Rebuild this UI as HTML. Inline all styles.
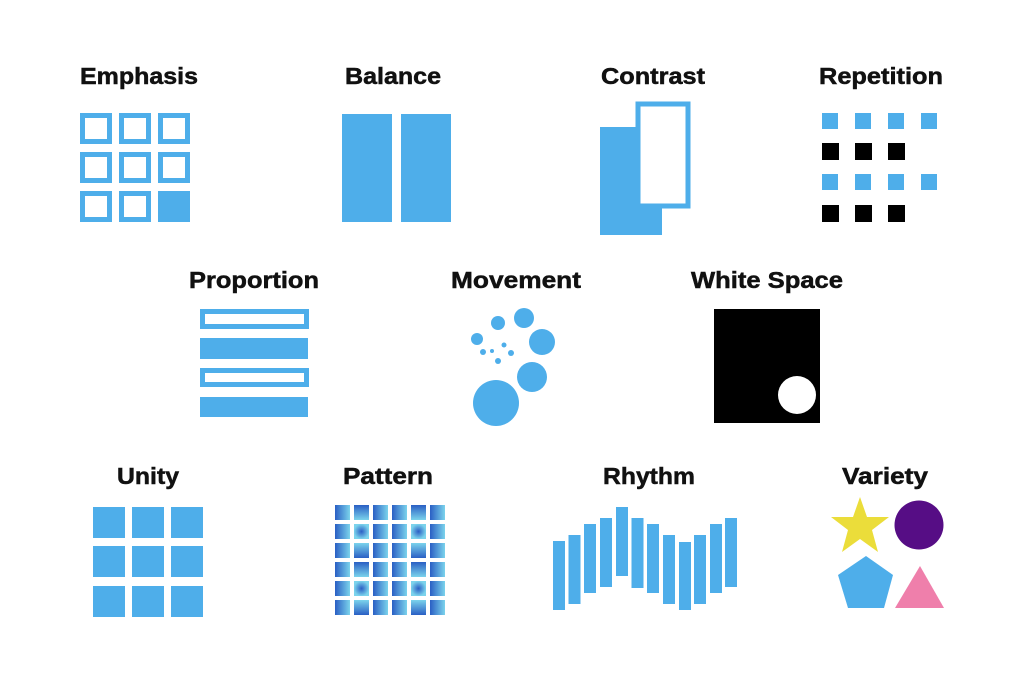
<!DOCTYPE html>
<html><head><meta charset="utf-8"><style>
html,body{margin:0;padding:0;background:#fff;}
svg{display:block;}
text{font-family:"Liberation Sans",Arial,sans-serif;font-weight:bold;font-size:23px;fill:#111;stroke:#111;stroke-width:0.5;text-anchor:middle;}
</style></head><body>
<svg width="1024" height="682" viewBox="0 0 1024 682" xmlns="http://www.w3.org/2000/svg">
<defs>
<linearGradient id="gh" x1="0" y1="0" x2="1" y2="0"><stop offset="0" stop-color="#2a5fc4"/><stop offset="1" stop-color="#7bd3ec"/></linearGradient>
<linearGradient id="gv" x1="0" y1="0" x2="0" y2="1"><stop offset="0" stop-color="#2a5fc4"/><stop offset="1" stop-color="#7bd3ec"/></linearGradient>
<linearGradient id="gv2" x1="0" y1="1" x2="0" y2="0"><stop offset="0" stop-color="#2a5fc4"/><stop offset="1" stop-color="#7bd3ec"/></linearGradient>
<radialGradient id="gr"><stop offset="0" stop-color="#2a5fc4"/><stop offset="1" stop-color="#7bd3ec"/></radialGradient>
</defs>
<g fill="none" stroke="#4eaeea" stroke-width="5">
<rect x="82.5" y="115.5" width="27" height="26"/><rect x="121.5" y="115.5" width="27" height="26"/><rect x="160.5" y="115.5" width="27" height="26"/>
<rect x="82.5" y="154.5" width="27" height="26"/><rect x="121.5" y="154.5" width="27" height="26"/><rect x="160.5" y="154.5" width="27" height="26"/>
<rect x="82.5" y="193.5" width="27" height="26"/><rect x="121.5" y="193.5" width="27" height="26"/>
</g>
<g fill="#4eaeea">
<rect x="158" y="191" width="32" height="31"/>
<rect x="342" y="114" width="50" height="108"/><rect x="401" y="114" width="50" height="108"/>
<rect x="600" y="127" width="62" height="108"/>
</g>
<rect x="638" y="104" width="50" height="102" fill="#fff" stroke="#4eaeea" stroke-width="5"/>
<g fill="#4eaeea">
<rect x="822" y="113" width="16" height="16"/><rect x="855" y="113" width="16" height="16"/><rect x="888" y="113" width="16" height="16"/><rect x="921" y="113" width="16" height="16"/>
<rect x="822" y="174" width="16" height="16"/><rect x="855" y="174" width="16" height="16"/><rect x="888" y="174" width="16" height="16"/><rect x="921" y="174" width="16" height="16"/>
</g>
<g fill="#000">
<rect x="822" y="143" width="17" height="17"/><rect x="855" y="143" width="17" height="17"/><rect x="888" y="143" width="17" height="17"/>
<rect x="822" y="205" width="17" height="17"/><rect x="855" y="205" width="17" height="17"/><rect x="888" y="205" width="17" height="17"/>
</g>
<text x="139" y="84" textLength="118" lengthAdjust="spacingAndGlyphs">Emphasis</text>
<text x="393" y="84" textLength="96" lengthAdjust="spacingAndGlyphs">Balance</text>
<text x="653" y="84" textLength="104" lengthAdjust="spacingAndGlyphs">Contrast</text>
<text x="881" y="84" textLength="124" lengthAdjust="spacingAndGlyphs">Repetition</text>
<text x="254" y="288" textLength="130" lengthAdjust="spacingAndGlyphs">Proportion</text>
<text x="516" y="288" textLength="130" lengthAdjust="spacingAndGlyphs">Movement</text>
<text x="767" y="288" textLength="152" lengthAdjust="spacingAndGlyphs">White Space</text>
<text x="148" y="484" textLength="62" lengthAdjust="spacingAndGlyphs">Unity</text>
<text x="388" y="484" textLength="90" lengthAdjust="spacingAndGlyphs">Pattern</text>
<text x="649" y="484" textLength="92" lengthAdjust="spacingAndGlyphs">Rhythm</text>
<text x="885" y="484" textLength="86" lengthAdjust="spacingAndGlyphs">Variety</text>
<rect x="202.5" y="311.5" width="104" height="15" fill="none" stroke="#4eaeea" stroke-width="5"/>
<rect x="200" y="338" width="108" height="21" fill="#4eaeea"/>
<rect x="202.5" y="370.5" width="104" height="14" fill="none" stroke="#4eaeea" stroke-width="5"/>
<rect x="200" y="397" width="108" height="20" fill="#4eaeea"/>
<g fill="#4eaeea">
<circle cx="496" cy="403" r="23"/><circle cx="532" cy="377" r="15"/><circle cx="542" cy="342" r="13"/>
<circle cx="524" cy="318" r="10"/><circle cx="498" cy="323" r="7"/><circle cx="477" cy="339" r="6"/>
<circle cx="483" cy="352" r="3"/><circle cx="492" cy="351" r="2"/><circle cx="504" cy="345" r="2.5"/><circle cx="511" cy="353" r="3"/><circle cx="498" cy="361" r="3"/>
</g>
<rect x="714" y="309" width="106" height="114" fill="#000"/>
<circle cx="797" cy="395" r="19" fill="#fff"/>
<g fill="#4eaeea">
<rect x="93" y="507" width="32" height="31"/><rect x="132" y="507" width="32" height="31"/><rect x="171" y="507" width="32" height="31"/>
<rect x="93" y="546" width="32" height="31"/><rect x="132" y="546" width="32" height="31"/><rect x="171" y="546" width="32" height="31"/>
<rect x="93" y="586" width="32" height="31"/><rect x="132" y="586" width="32" height="31"/><rect x="171" y="586" width="32" height="31"/>
</g>
<g>
<rect x="335" y="505" width="15" height="15" fill="url(#gh)"/><rect x="354" y="505" width="15" height="15" fill="url(#gv)"/><rect x="373" y="505" width="15" height="15" fill="url(#gh)"/><rect x="392" y="505" width="15" height="15" fill="url(#gh)"/><rect x="411" y="505" width="15" height="15" fill="url(#gv)"/><rect x="430" y="505" width="15" height="15" fill="url(#gh)"/>
<rect x="335" y="524" width="15" height="15" fill="url(#gh)"/><rect x="354" y="524" width="15" height="15" fill="url(#gr)"/><rect x="373" y="524" width="15" height="15" fill="url(#gh)"/><rect x="392" y="524" width="15" height="15" fill="url(#gh)"/><rect x="411" y="524" width="15" height="15" fill="url(#gr)"/><rect x="430" y="524" width="15" height="15" fill="url(#gh)"/>
<rect x="335" y="543" width="15" height="15" fill="url(#gh)"/><rect x="354" y="543" width="15" height="15" fill="url(#gv2)"/><rect x="373" y="543" width="15" height="15" fill="url(#gh)"/><rect x="392" y="543" width="15" height="15" fill="url(#gh)"/><rect x="411" y="543" width="15" height="15" fill="url(#gv2)"/><rect x="430" y="543" width="15" height="15" fill="url(#gh)"/>
<rect x="335" y="562" width="15" height="15" fill="url(#gh)"/><rect x="354" y="562" width="15" height="15" fill="url(#gv)"/><rect x="373" y="562" width="15" height="15" fill="url(#gh)"/><rect x="392" y="562" width="15" height="15" fill="url(#gh)"/><rect x="411" y="562" width="15" height="15" fill="url(#gv)"/><rect x="430" y="562" width="15" height="15" fill="url(#gh)"/>
<rect x="335" y="581" width="15" height="15" fill="url(#gh)"/><rect x="354" y="581" width="15" height="15" fill="url(#gr)"/><rect x="373" y="581" width="15" height="15" fill="url(#gh)"/><rect x="392" y="581" width="15" height="15" fill="url(#gh)"/><rect x="411" y="581" width="15" height="15" fill="url(#gr)"/><rect x="430" y="581" width="15" height="15" fill="url(#gh)"/>
<rect x="335" y="600" width="15" height="15" fill="url(#gh)"/><rect x="354" y="600" width="15" height="15" fill="url(#gv2)"/><rect x="373" y="600" width="15" height="15" fill="url(#gh)"/><rect x="392" y="600" width="15" height="15" fill="url(#gh)"/><rect x="411" y="600" width="15" height="15" fill="url(#gv2)"/><rect x="430" y="600" width="15" height="15" fill="url(#gh)"/>
</g>
<g fill="#4eaeea">
<rect x="553" y="541" width="12" height="69"/><rect x="568.5" y="535" width="12" height="69"/><rect x="584" y="524" width="12" height="69"/>
<rect x="600" y="518" width="12" height="69"/><rect x="616" y="507" width="12" height="69"/><rect x="631.5" y="518" width="12" height="70"/>
<rect x="647" y="524" width="12" height="69"/><rect x="663" y="535" width="12" height="69"/><rect x="679" y="542" width="12" height="68"/>
<rect x="694" y="535" width="12" height="69"/><rect x="710" y="524" width="12" height="69"/><rect x="725" y="518" width="12" height="69"/>
</g>
<polygon fill="#ebdd3a" points="860,497 867,517 889,517 872,530 878,552 860,539 842,552 848,530 831,517 853,517"/>
<circle cx="919" cy="525" r="24.5" fill="#560d85"/>
<polygon fill="#4eaeea" points="866,556 893,575 884,608 848,608 838,575"/>
<polygon fill="#ef7fab" points="920,566 944,608 895,608"/>
</svg>
</body></html>
